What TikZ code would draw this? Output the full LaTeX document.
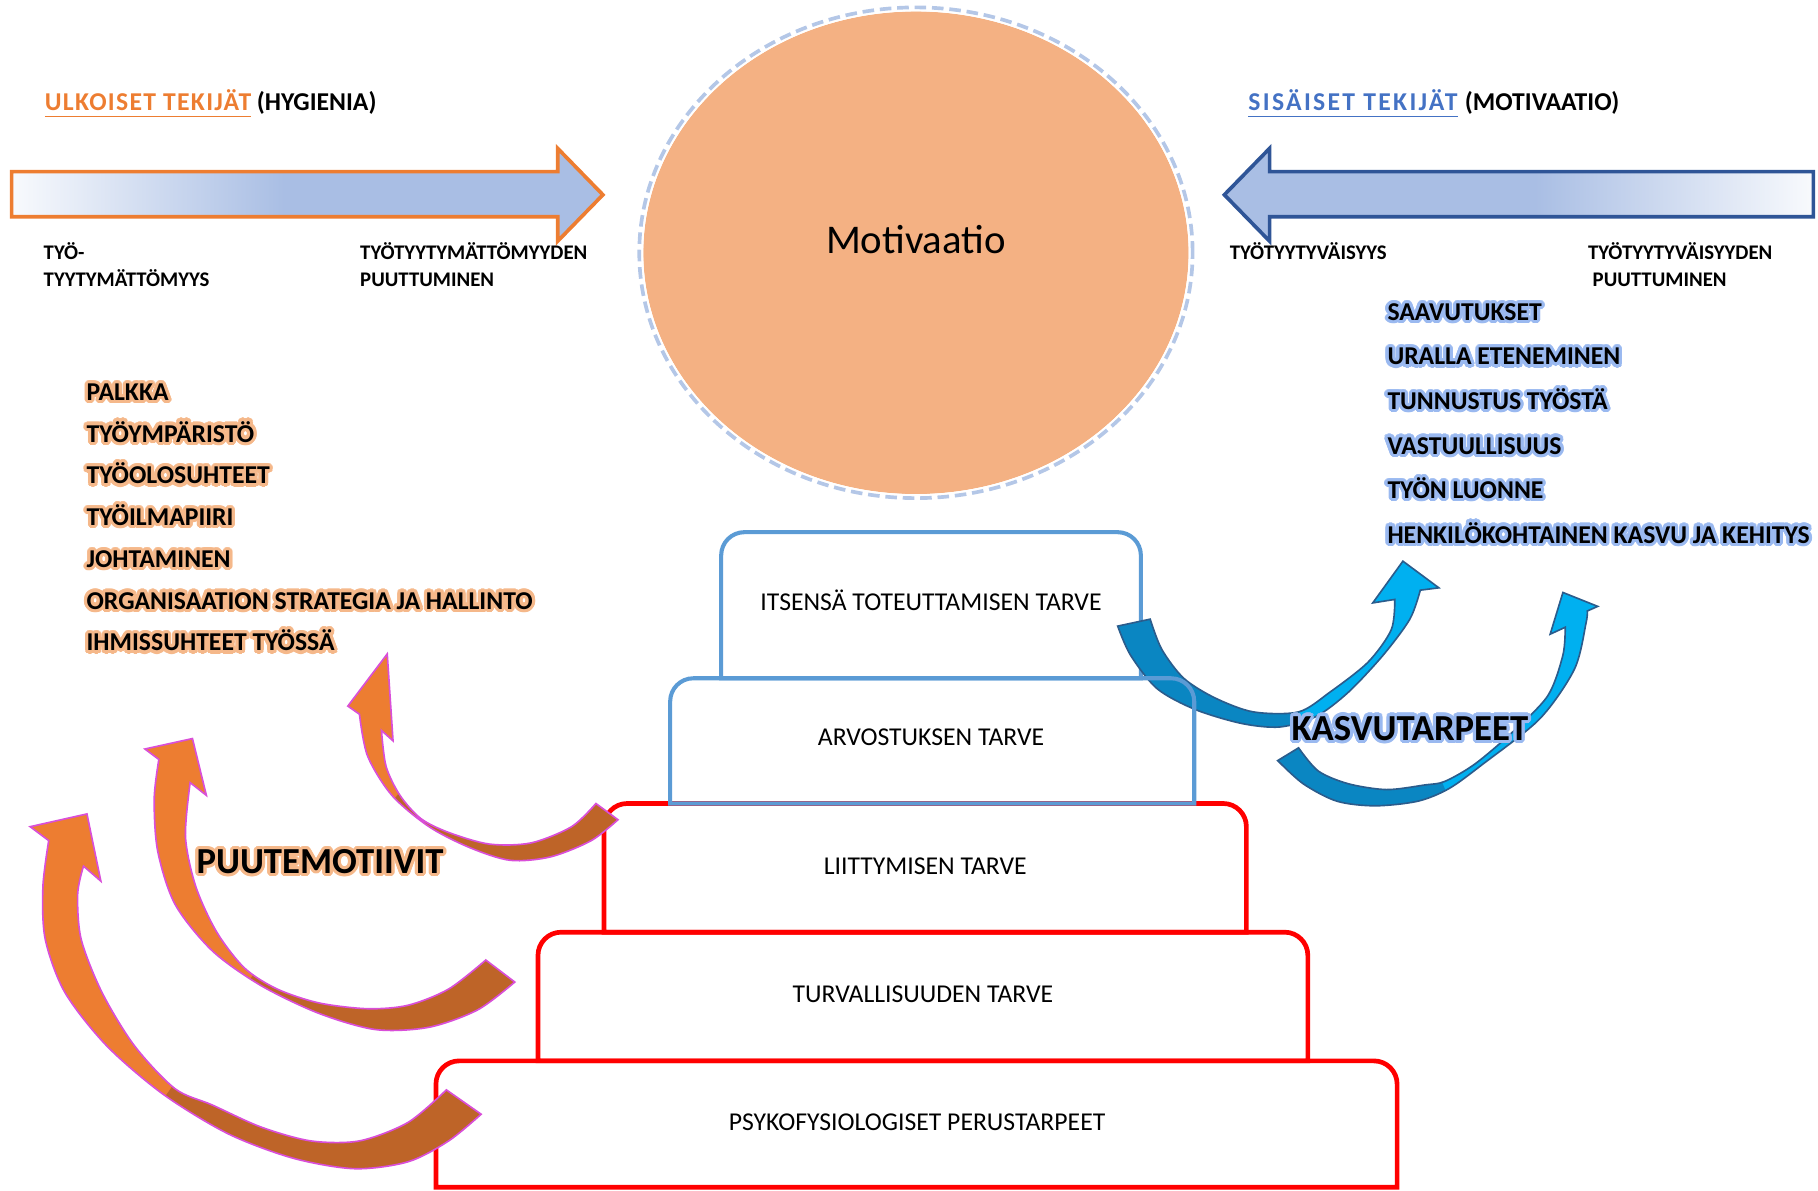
\documentclass[tikz,border=0pt]{standalone}
\usepackage{fontspec}
\setmainfont{Carlito}
\usepackage{contour}
\contourlength{0.8pt}
\usetikzlibrary{positioning}

% colours
\definecolor{hygOrange}{HTML}{ED7D31}
\definecolor{tailBrown}{HTML}{BE6428}
\definecolor{edgePink}{HTML}{D94FD9}
\definecolor{shaftBlue}{HTML}{A9BEE4}
\definecolor{motBlue}{HTML}{2F5597}
\definecolor{sisBlue}{HTML}{4472C4}
\definecolor{circleFill}{HTML}{F4B183}
\definecolor{circleDash}{HTML}{B4C7E7}
\definecolor{stepBlue}{HTML}{5B9BD5}
\definecolor{stepRed}{HTML}{FF0000}
\definecolor{growDark}{HTML}{0A86C2}
\definecolor{growLight}{HTML}{00B0F0}
\definecolor{growEdge}{HTML}{2B5C8C}
\definecolor{glowOrange}{HTML}{F5B88A}
\definecolor{glowBlue}{HTML}{9AB9F0}

% curved arrows (outline paths)
\newcommand{\lackA}{plot[smooth] coordinates {(310,616) (317,652) (338,686) (370,713) (405,731) (440,742) (475,739) (510,725) (533,707)} -- (514,693) -- plot[smooth] coordinates {(514,693) (493,713) (458,727) (422,728) (387,718) (363,706) (345,686) (333,661) (329,630)} -- (339,639) -- (334,564) -- (300,609) -- cycle}
\newcommand{\lackB}{plot[smooth] coordinates {(137,655) (133,689) (136,734) (151,780) (183,820) (225,850) (275,874) (324,888) (370,886) (412,871) (444,847)} -- (419,828) -- plot[smooth] coordinates {(419,828) (387,853) (352,867) (317,870) (275,865) (239,853) (211,835) (187,804) (169,765) (160,722) (164,675)} -- (178,686) -- (166,637) -- (125,646) -- cycle}
\newcommand{\lackC}{plot[smooth] coordinates {(42,725) (37,765) (39,810) (56,856) (92,902) (141,944) (197,978) (253,999) (306,1008) (352,1002) (387,984) (415,961)} -- (385,940) -- plot[smooth] coordinates {(385,940) (352,968) (310,984) (268,984) (225,972) (183,953) (151,939) (116,902) (88,856) (70,810) (67,771) (72,747)} -- (87,760) -- (75,702) -- (26,713) -- cycle}
\newcommand{\growA}{plot[smooth] coordinates {(964,540) (975,565) (998,594) (1031,612) (1071,624) (1104,627) (1135,618) (1163,597) (1193,565) (1216,534) (1225,509)} -- (1241,507) -- (1210,484) -- (1184,520) -- plot[smooth] coordinates {(1203,517) (1200,543) (1180,571) (1147,597) (1120,614) (1081,614) (1048,602) (1021,585) (1002,560) (992,534)} -- cycle}
\newcommand{\growB}{plot[smooth] coordinates {(1102,656) (1124,676) (1153,691) (1186,695) (1223,691) (1250,680) (1279,659) (1328,620) (1358,577) (1368,537) (1369,527)} -- (1378,523) -- (1348,511) -- (1337,547) -- plot[smooth] coordinates {(1350,541) (1348,565) (1335,600) (1305,631) (1272,659) (1246,674) (1229,677) (1196,681) (1163,676) (1137,665) (1120,645)} -- cycle}

\tikzset{
  titletext/.style={inner sep=0pt, anchor=mid west, font=\bfseries\fontsize{6.3}{7.5}\selectfont},
  lab/.style={inner sep=0pt, anchor=mid west, font=\bfseries\fontsize{5.1}{6.1}\selectfont},
  listitem/.style={inner sep=0pt, anchor=mid west, font=\bfseries\fontsize{6.3}{7.5}\selectfont},
  steplabel/.style={inner sep=0pt, anchor=mid, font=\fontsize{6.3}{7.5}\selectfont},
  bigword/.style={inner sep=0pt, anchor=mid, font=\bfseries\fontsize{9}{10.8}\selectfont},
  redstep/.style={draw=stepRed, line width=1.15pt},
  bluestep/.style={draw=stepBlue, line width=1pt},
  lackarrow/.style={draw=edgePink, line width=0.4pt},
  growarrow/.style={draw=growEdge, line width=0.4pt},
}

\begin{document}
\begin{tikzpicture}[x=0.01cm, y=-0.01cm]
    \useasboundingbox (0,0) rectangle (1568,1027);

    % Motivation circle
    \fill[circleFill] (790,218) ellipse [x radius=2.35cm, y radius=2.08cm];
    \draw[white, line width=0.5pt] (790,218) ellipse [x radius=2.36cm, y radius=2.09cm];
    \draw[circleDash, line width=0.9pt, dash pattern=on 1mm off 0.5mm] (790,218) ellipse [x radius=2.385cm, y radius=2.115cm];
    \node[inner sep=0pt, anchor=mid, font=\fontsize{10}{12}\selectfont] (mot) at (790,210) {Motivaatio};

    % Left arrow (hygiene)
    \fill[shaftBlue] (10,148) -- (481,148) -- (481,128) -- (520,168) -- (481,208) -- (481,187) -- (10,187) -- cycle;
    \shade[left color=white!92!shaftBlue, right color=shaftBlue] (11,149) rectangle (245,186);
    \draw[hygOrange, line width=0.9pt] (10,148) -- (481,148) -- (481,128) -- (520,168) -- (481,208) -- (481,187) -- (10,187) -- cycle;

    % Right arrow (motivation)
    \fill[shaftBlue] (1564,148) -- (1095,148) -- (1095,128) -- (1056,168) -- (1095,208) -- (1095,187) -- (1564,187) -- cycle;
    \shade[left color=shaftBlue, right color=white!92!shaftBlue] (1324,149) rectangle (1563,186);
    \draw[motBlue, line width=0.9pt] (1564,148) -- (1095,148) -- (1095,128) -- (1056,168) -- (1095,208) -- (1095,187) -- (1564,187) -- cycle;

    % Titles
    \node[titletext, text=hygOrange] (ulk) at (38,87) {\addfontfeatures{LetterSpace=5}\underline{ULKOISET TEKIJÄT}};
    \node[titletext, base right=0.035cm of ulk] (hyg) {(HYGIENIA)};
    \node[titletext, text=sisBlue] (sis) at (1076,87) {\addfontfeatures{LetterSpace=9}\underline{SISÄISET TEKIJÄT}};
    \node[titletext, base right=0.05cm of sis] (motiv) {(MOTIVAATIO)};

    % Arrow end labels
    \node[lab] (tyo) at (37,215) {TYÖ-};
    \node[lab] (tyyt) at (37,239) {TYYTYMÄTTÖMYYS};
    \node[lab] (tyytp) at (310,215) {TYÖTYYTYMÄTTÖMYYDEN};
    \node[lab] (puutl) at (310,239) {PUUTTUMINEN};
    \node[lab] (tyyv) at (1060,215) {TYÖTYYTYVÄISYYS};
    \node[lab] (tyyvp) at (1369,215) {TYÖTYYTYVÄISYYDEN};
    \node[lab] (puutr) at (1373,239) {PUUTTUMINEN};

    % Hygiene factors
    \foreach \txt [count=\i from 0] in {PALKKA, TYÖYMPÄRISTÖ, TYÖOLOSUHTEET, TYÖILMAPIIRI, JOHTAMINEN, ORGANISAATION STRATEGIA JA HALLINTO, IHMISSUHTEET TYÖSSÄ}
        \node[listitem] (hyg\i) at (74,{337+36*\i}) {\contour{glowOrange}{\txt}};

    % Motivators
    \foreach \txt [count=\i from 0] in {SAAVUTUKSET, URALLA ETENEMINEN, TUNNUSTUS TYÖSTÄ, VASTUULLISUUS, TYÖN LUONNE, HENKILÖKOHTAINEN KASVU JA KEHITYS}
        \node[listitem] (mot\i) at (1196,{268+38.4*\i}) {\contour{glowBlue}{\txt}};

    % Pyramid - physiological, safety, belonging (red)
    \draw[redstep] (376,1024) [rounded corners=0.2cm] -- (376,915) -- (1205,915) [sharp corners] -- (1205,1024) -- cycle;
    \draw[redstep] (464,915) [rounded corners=0.2cm] -- (464,804) -- (1128,804) [sharp corners] -- (1128,915) -- cycle;
    \draw[redstep] (521,804) [rounded corners=0.2cm] -- (521,693) -- (1075,693) [sharp corners] -- (1075,804) -- cycle;

    % Pyramid - self-actualisation (blue)
    \draw[bluestep] (622,585) [rounded corners=0.2cm] -- (622,459) -- (984,459) [sharp corners] -- (984,585) -- cycle;

    % Growth arrows
    \fill[growLight] \growA;
    \begin{scope}
        \clip \growA;
        \fill[growDark] (1090,520) -- (1150,720) -- (900,720) -- (900,520) -- cycle;
    \end{scope}
    \draw[growarrow] \growA;

    \fill[growLight] \growB;
    \begin{scope}
        \clip \growB;
        \fill[growDark] (1206,580) -- (1286,780) -- (1050,780) -- (1050,580) -- cycle;
    \end{scope}
    \draw[growarrow] \growB;

    % Pyramid - esteem (blue)
    \draw[bluestep] (578,693) [rounded corners=0.2cm] -- (578,585) -- (1030,585) [sharp corners] -- (1030,693) -- cycle;

    % Deficiency arrows
    \fill[hygOrange] \lackC;
    \begin{scope}
        \clip \lackC;
        \fill[tailBrown] (75,1042) -- (215,842) -- (450,842) -- (450,1050) -- (75,1050) -- cycle;
    \end{scope}
    \draw[lackarrow] \lackC;

    \fill[hygOrange] \lackB;
    \begin{scope}
        \clip \lackB;
        \fill[tailBrown] (158,941) -- (278,741) -- (480,741) -- (480,950) -- (158,950) -- cycle;
    \end{scope}
    \draw[lackarrow] \lackB;

    \fill[hygOrange] \lackA;
    \begin{scope}
        \clip \lackA;
        \fill[tailBrown] (301,738) -- (381,638) -- (600,638) -- (600,800) -- (301,800) -- cycle;
    \end{scope}
    \draw[lackarrow] \lackA;

    % Pyramid labels
    \node[steplabel] (self) at (803,518) {ITSENSÄ TOTEUTTAMISEN TARVE};
    \node[steplabel] (esteem) at (803,635) {ARVOSTUKSEN TARVE};
    \node[steplabel] (belong) at (798,746) {LIITTYMISEN TARVE};
    \node[steplabel] (safety) at (796,856) {TURVALLISUUDEN TARVE};
    \node[steplabel] (physio) at (791,967) {PSYKOFYSIOLOGISET PERUSTARPEET};

    % Group names
    \node[bigword] (puute) at (276,745) {\contour{glowOrange}{PUUTEMOTIIVIT}};
    \node[bigword] (kasvu) at (1216,630) {\contour{glowBlue}{KASVUTARPEET}};
\end{tikzpicture}
\end{document}
